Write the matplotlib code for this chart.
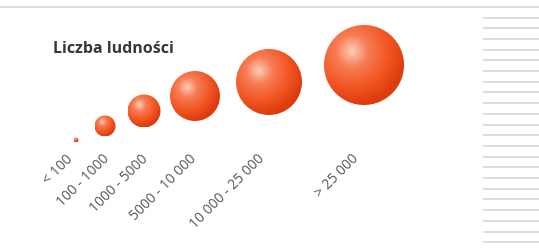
import numpy as np
import matplotlib.pyplot as plt
from matplotlib.patches import Circle
from matplotlib.colors import LinearSegmentedColormap

# population classes and bubble radius (px) for each class
categories = ["< 100", "100 - 1000", "1000 - 5000", "5000 - 10 000", "10 000 - 25 000", "> 25 000"]
bubble_r = [2.5, 10.5, 16.5, 25, 33, 40]

# layout (pixel coords)
cx = [76, 105, 144, 195, 269, 364]
cy = [140, 126, 111, 96, 82, 65]
label_end = [72, 108, 147, 195, 263, 358]

W, H = 539, 252
fig = plt.figure(figsize=(W / 100, H / 100), dpi=100)
ax = fig.add_axes([0, 0, 1, 1])
ax.set_xlim(0, W)
ax.set_ylim(H, 0)
ax.set_aspect("equal")
ax.axis("off")

# frame decorations
ax.plot([0, W], [7, 7], color="#dddddd", lw=1.5)
for y in np.arange(17.5, 246, 10.7):
    ax.plot([484, W], [y, y], color="#d9d9d9", lw=1.3)

ax.text(53, 49, "Liczba ludności", fontsize=11.5, fontweight="bold",
        family="Open Sans", color="#383838", va="center", ha="left")

cmap = LinearSegmentedColormap.from_list(
    "sphere", [(0, "#fbcdb8"), (0.3, "#f77c55"), (0.7, "#f25420"), (1, "#dc3c10")])

n = 200
g = np.linspace(-1, 1, n)
X, Y = np.meshgrid(g, g)
# highlight offset up-left
D = np.sqrt((X + 0.3) ** 2 + (Y + 0.35) ** 2) / 1.35
D = np.clip(D, 0, 1)

for lab, r, x, y, xe in zip(categories, bubble_r, cx, cy, label_end):
    circ = Circle((x, y), r, transform=ax.transData, facecolor="none", edgecolor="none")
    ax.add_patch(circ)
    im = ax.imshow(D, cmap=cmap, extent=[x - r, x + r, y + r, y - r],
                   vmin=0, vmax=1, interpolation="bilinear", zorder=2)
    im.set_clip_path(circ)
    # label below bubble, rotated 45 degrees
    ax.text(xe - 1, 157, lab, rotation=45, rotation_mode="anchor",
            ha="right", va="center", fontsize=10, color="#555555", family="Open Sans")

ax.set_xlim(0, W)
ax.set_ylim(H, 0)
fig.savefig("out.png", dpi=100)
